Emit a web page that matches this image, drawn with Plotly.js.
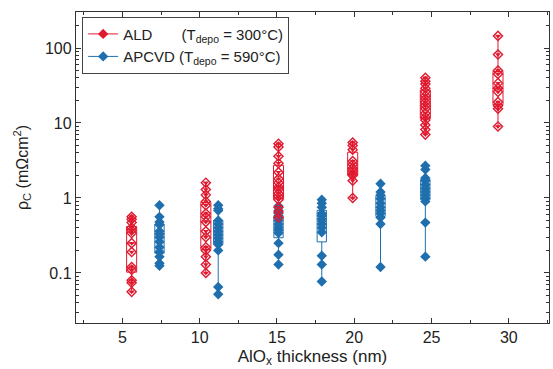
<!DOCTYPE html>
<html><head><meta charset="utf-8">
<script src="https://cdn.plot.ly/plotly-3.0.1.min.js"></script>
<style>html,body{margin:0;padding:0;background:#fff}#chart{width:553px;height:369px}</style>
</head><body><div id="chart"></div>
<script>
// Thickness positions (nm) of each measured group
const aldPos = [5.6, 10.4, 15.1, 19.9, 24.6, 29.3];
const apcvdPos = [7.4, 11.2, 15.1, 17.9, 21.7, 24.6];

// Contact resistivity rho_C (mOhm cm^2), ALD (300 °C)
const ald5  = [0.56, 0.52, 0.47, 0.40, 0.37, 0.34, 0.25, 0.19, 0.12, 0.11, 0.08, 0.074, 0.056];
const ald10 = [1.6, 1.3, 1.1, 0.9, 0.8, 0.62, 0.56, 0.48, 0.36, 0.3, 0.22, 0.2, 0.165, 0.13, 0.1];
const ald15 = [5.3, 4.8, 3.6, 2.9, 2.2, 1.8, 1.6, 1.4, 1.3, 1.15, 1.05, 0.95, 0.75, 0.65, 0.55];
const ald20 = [5.5, 5.0, 4.4, 3.1, 2.8, 2.5, 2.3, 2.1, 2.0, 1.7, 1.0];
const ald25 = [40, 36, 33, 29, 26, 23, 21, 19, 17, 15.5, 13.5, 12, 11, 9.4, 8.2, 7.0];
const ald30 = [145, 82, 50, 45, 34, 29, 26, 19, 17, 15.5, 9.0];

// APCVD (590 °C)
const apcvd7  = [0.8, 0.56, 0.48, 0.44, 0.36, 0.33, 0.30, 0.26, 0.22, 0.19, 0.165, 0.135, 0.125];
const apcvd11 = [0.8, 0.72, 0.68, 0.5, 0.45, 0.40, 0.36, 0.32, 0.29, 0.26, 0.24, 0.2, 0.065, 0.052];
const apcvd15 = [0.78, 0.68, 0.62, 0.55, 0.5, 0.45, 0.4, 0.37, 0.34, 0.25, 0.175, 0.13];
const apcvd18 = [0.95, 0.85, 0.75, 0.62, 0.58, 0.52, 0.45, 0.4, 0.35, 0.17, 0.13, 0.077];
const apcvd22 = [1.55, 1.2, 1.1, 0.98, 0.85, 0.75, 0.68, 0.62, 0.55, 0.45, 0.12];
const apcvd25 = [2.7, 2.4, 1.85, 1.7, 1.5, 1.35, 1.2, 1.1, 1.0, 0.9, 0.47, 0.165];

const aldLabel = 'ALD\u00a0\u00a0\u00a0\u00a0\u00a0\u00a0 (T<sub>depo</sub> = 300°C)';
const apcvdLabel = 'APCVD (T<sub>depo</sub> = 590°C)';

const RED = '#e0192f', BLUE = '#1f6fae';
const FONT = 'Liberation Sans, Arial, sans-serif';

function flatten(pos, groups) {
  const x = [], y = [];
  groups.forEach((g, i) => g.forEach(v => { x.push(pos[i]); y.push(v); }));
  return {x, y};
}
const ald = flatten(aldPos, [ald5, ald10, ald15, ald20, ald25, ald30]);
const apc = flatten(apcvdPos, [apcvd7, apcvd11, apcvd15, apcvd18, apcvd22, apcvd25]);

const traces = [
  {type:'box', x:apc.x, y:apc.y, boxpoints:false, width:0.6, showlegend:false,
   line:{color:BLUE, width:1}, fillcolor:'rgba(0,0,0,0)', hoverinfo:'skip'},
  {type:'box', x:ald.x, y:ald.y, boxpoints:false, width:0.65, showlegend:false,
   line:{color:RED, width:1}, fillcolor:'rgba(0,0,0,0)', hoverinfo:'skip'},
  {type:'scatter', mode:'markers', x:apc.x, y:apc.y, showlegend:false,
   marker:{symbol:'diamond', size:8, color:BLUE, line:{width:0}}},
  {type:'scatter', mode:'markers', x:ald.x, y:ald.y, showlegend:false,
   marker:{symbol:'diamond-open', size:7, color:RED, line:{width:1.4, color:RED}}},
  {type:'scatter', mode:'markers', x:ald.x, y:ald.y, showlegend:false,
   marker:{symbol:'triangle-down', size:5, color:RED, line:{width:0}}},
  {type:'scatter', mode:'lines+markers', x:[null], y:[null], name:aldLabel,
   line:{color:RED, width:1}, marker:{symbol:'diamond', size:8, color:RED}},
  {type:'scatter', mode:'lines+markers', x:[null], y:[null], name:apcvdLabel,
   line:{color:BLUE, width:1}, marker:{symbol:'diamond', size:8, color:BLUE}}
];

const axisCommon = {
  showline:true, linecolor:'#333', linewidth:1.2, mirror:'allticks',
  ticks:'inside', ticklen:5, tickcolor:'#333', showgrid:false, zeroline:false,
  tickfont:{family:FONT, size:16, color:'#222'}
};

const layout = {
  width:553, height:369,
  margin:{l:76, r:4, t:12, b:46},
  paper_bgcolor:'#fff', plot_bgcolor:'#fff',
  font:{family:FONT, color:'#222'},
  boxmode:'overlay',
  showlegend:true,
  legend:{x:0.013, y:0.985, xanchor:'left', yanchor:'top',
    bordercolor:'#444', borderwidth:1, bgcolor:'#fff',
    font:{family:FONT, size:15, color:'#222'}, tracegroupgap:0, itemwidth:30},
  xaxis:Object.assign({}, axisCommon, {
    range:[2, 32.6], tick0:0, dtick:5,
    minor:{dtick:2.5, ticks:'inside', ticklen:3, tickcolor:'#333'},
    title:{text:'AlO<sub>x</sub> thickness (nm)', font:{family:FONT, size:17, color:'#222'}, standoff:4}
  }),
  yaxis:Object.assign({}, axisCommon, {
    type:'log', range:[-1.667, 2.48], dtick:1,
    minor:{dtick:'D1', ticks:'inside', ticklen:3, tickcolor:'#333'},
    title:{text:'ρ<sub>C</sub> (mΩcm<sup>2</sup>)', font:{family:FONT, size:16, color:'#222'}, standoff:12}
  })
};

Plotly.newPlot('chart', traces, layout, {displayModeBar:false, staticPlot:true});
</script></body></html>
